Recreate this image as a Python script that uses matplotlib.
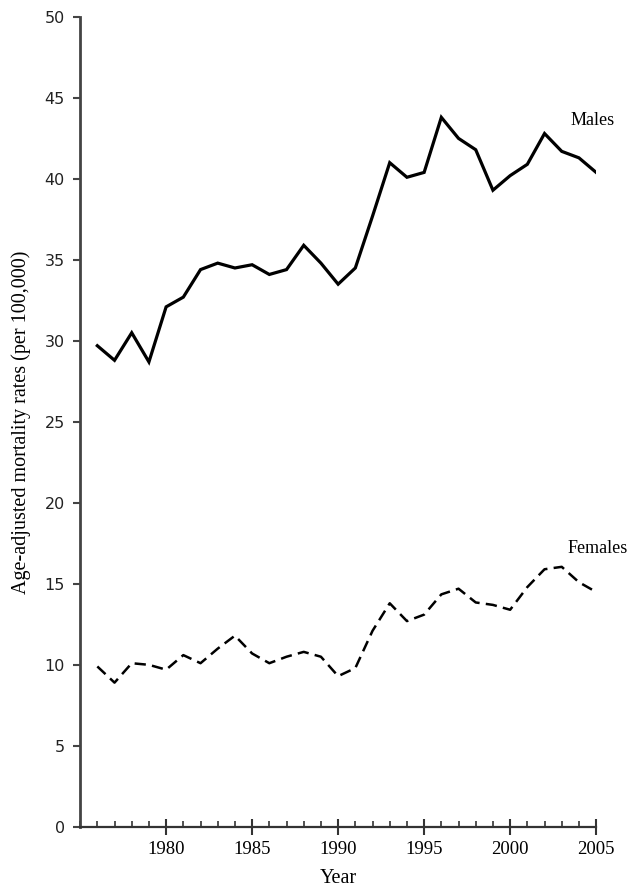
import matplotlib
matplotlib.use('Agg')
import matplotlib.pyplot as plt
from matplotlib.ticker import MultipleLocator

# Age-adjusted mortality rates per 100,000, 1976-2005
years = list(range(1976, 2006))
males = [29.7, 28.8, 30.5, 28.7, 32.1, 32.7, 34.4, 34.8, 34.5, 34.7,
         34.1, 34.4, 35.9, 34.8, 33.5, 34.5, 37.7, 41.0, 40.1, 40.4,
         43.8, 42.5, 41.8, 39.3, 40.2, 40.9, 42.8, 41.7, 41.3, 40.4]
females = [9.9, 8.9, 10.1, 10.0, 9.7, 10.6, 10.1, 11.0, 11.8, 10.7,
           10.1, 10.5, 10.8, 10.5, 9.3, 9.8, 12.1, 13.8, 12.7, 13.1,
           14.35, 14.7, 13.85, 13.7, 13.4, 14.8, 15.9, 16.05, 15.1, 14.5]

serif = 'Liberation Serif'

fig = plt.figure(figsize=(6.41, 8.9), dpi=100)
ax = fig.add_axes([0.125, 0.071, 0.805, 0.910])

ax.plot(years, males, color='black', linewidth=2.3, solid_joinstyle='miter')
ax.plot(years, females, color='black', linewidth=1.8, dashes=(4.5, 2.5))

ax.text(2004.8, 43.6, 'Males', family=serif, fontsize=13, ha='center', va='center')
ax.text(2005.1, 17.2, 'Females', family=serif, fontsize=13, ha='center', va='center')

ax.set_xlim(1975, 2005)
ax.set_ylim(0, 50)

# axes: only left and bottom
for side in ('top', 'right'):
    ax.spines[side].set_visible(False)
ax.spines['left'].set_linewidth(2.0)
ax.spines['left'].set_color('#444444')
ax.spines['bottom'].set_linewidth(1.6)
ax.spines['bottom'].set_color('#333333')

ax.yaxis.set_major_locator(MultipleLocator(5))
ax.tick_params(axis='y', direction='out', length=5, width=1.5, color='#444444',
               labelsize=11.5, pad=6)
for lab in ax.get_yticklabels():
    lab.set_family('DejaVu Sans')
    lab.set_color('#222222')

ax.set_xticks([1980, 1985, 1990, 1995, 2000, 2005])
ax.xaxis.set_minor_locator(MultipleLocator(1))
ax.tick_params(axis='x', which='major', direction='inout', length=12, width=1.5,
               color='#333333', labelsize=13.5, pad=4)
ax.tick_params(axis='x', which='minor', direction='in', length=4, width=1.2,
               color='#333333')
for lab in ax.get_xticklabels():
    lab.set_family(serif)

ax.set_xlabel('Year', family=serif, fontsize=14.5, labelpad=8)
ax.set_ylabel('Age-adjusted mortality rates (per 100,000)', family=serif,
              fontsize=14.5, labelpad=10)

fig.savefig('out.png', dpi=100)
